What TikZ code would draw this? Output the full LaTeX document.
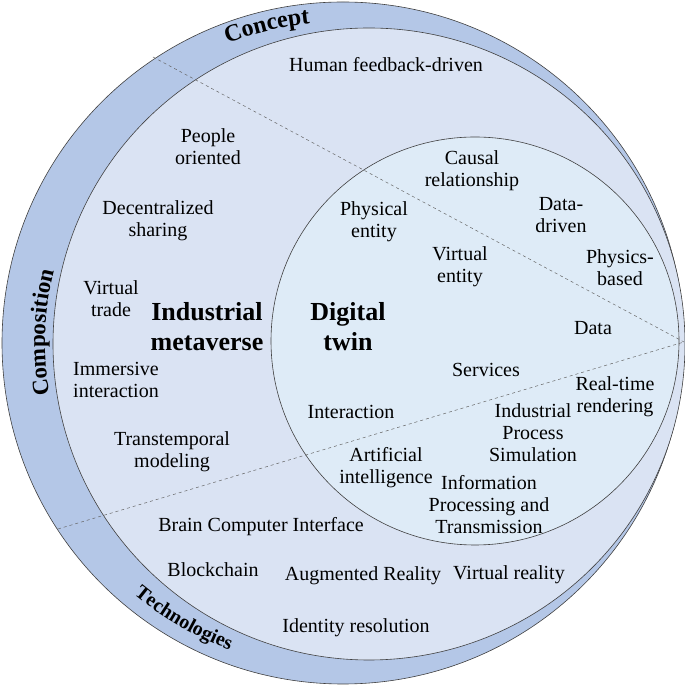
\documentclass[tikz,border=0pt]{standalone}
\usepackage{fontspec}
\setmainfont{Liberation Serif}
\usetikzlibrary{decorations.text}
\definecolor{bandblue}{HTML}{B4C7E7}
\definecolor{ringblue}{HTML}{DAE3F3}
\definecolor{twinblue}{HTML}{DEEBF7}

\begin{document}
\begin{tikzpicture}[x=1pt, y=1pt,
    ring/.style={draw=black!75, line width=0.6pt},
    split/.style={draw=black!60, dashed, line width=0.5pt},
    lbl/.style={align=center, inner sep=0pt, font=\fontsize{20}{22}\selectfont},
    hub/.style={align=center, inner sep=0pt, font=\fontsize{26}{30}\selectfont\bfseries}]

    \useasboundingbox (0,0) rectangle (685,685);

    \coordinate (O) at (343,342);
    \coordinate (M) at (369,341);
    \coordinate (T) at (475,344);

    % rings
    \draw[ring, fill=bandblue] (O) circle[radius=341];
    \draw[ring, fill=ringblue] (M) circle[radius=316];
    \draw[ring, fill=twinblue] (T) circle[radius=204];

    % sector borders
    \coordinate (tip) at (684,343);
    \coordinate (upper) at (153,628);
    \coordinate (lower) at (58,156);
    \draw[split] (upper) -- (tip);
    \draw[split] (lower) -- (tip);

    % band titles
    \path[decorate, decoration={text along path, text align=center,
        text={|\fontsize{24}{28}\selectfont\bfseries|Concept}}]
        ([shift={(O)}]114:321) arc[start angle=114, end angle=93, radius=321];
    \path[decorate, decoration={text along path, text align=center,
        text={|\fontsize{23}{28}\selectfont\bfseries|Composition}}]
        ([shift={(O)}]198:298) arc[start angle=198, end angle=158, radius=298];
    \path[decorate, decoration={text along path, text align=center,
        text={|\fontsize{20}{24}\selectfont\bfseries|Technologies}}]
        ([shift={(O)}]223:327) arc[start angle=223, end angle=257, radius=327];

    % centres
    \node[hub] (meta) at (207,358) {Industrial\\metaverse};
    \node[hub] (twin) at (348,358) {Digital\\twin};

    % concept
    \node[lbl] (human) at (386,620) {Human feedback-driven};
    \node[lbl] (people) at (208,538) {People\\oriented};
    \node[lbl] (share) at (158,464) {Decentralized\\sharing};
    \node[lbl] (causal) at (472,514) {Causal\\relationship};
    \node[lbl] (datadr) at (561,470) {Data-\\driven};
    \node[lbl] (physics) at (620,417) {Physics-\\based};

    % composition
    \node[lbl] (trade) at (111,386) {Virtual\\trade};
    \node[lbl] (immers) at (116,305) {Immersive\\interaction};
    \node[lbl] (transt) at (172,233) {Transtemporal\\modeling};
    \node[lbl] (phys) at (374,463) {Physical\\entity};
    \node[lbl] (virt) at (460,418) {Virtual\\entity};
    \node[lbl] (data) at (593,357) {Data};
    \node[lbl] (serv) at (486,315) {Services};
    \node[lbl] (inter) at (351,273) {Interaction};

    % technologies
    \node[lbl] (render) at (615,288) {Real-time\\rendering};
    \node[lbl] (sim) at (533,252) {Industrial\\Process\\Simulation};
    \node[lbl] (ai) at (386,217) {Artificial\\intelligence};
    \node[lbl] (info) at (489,180) {Information\\Processing and\\Transmission};
    \node[lbl] (bci) at (261,158) {Brain Computer Interface};
    \node[lbl] (block) at (213,115) {Blockchain};
    \node[lbl] (ar) at (363,109) {Augmented Reality};
    \node[lbl] (vr) at (509,110) {Virtual reality};
    \node[lbl] (ident) at (356,57) {Identity resolution};
\end{tikzpicture}
\end{document}
